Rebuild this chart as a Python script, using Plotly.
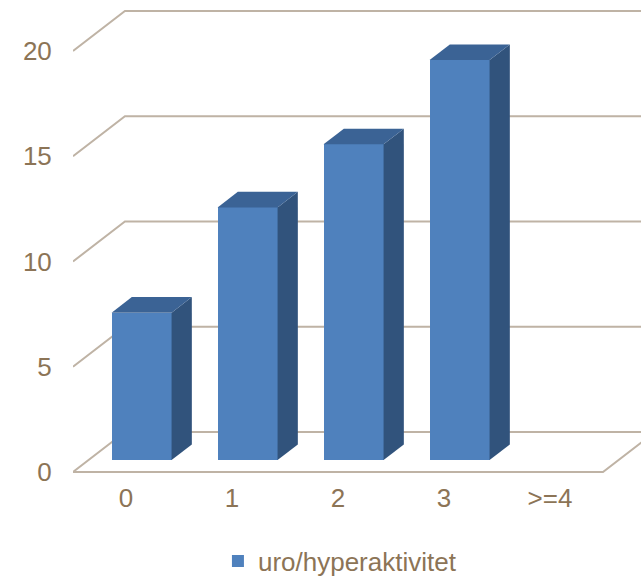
import plotly.graph_objects as go

categories = ["0", "1", "2", "3", ">=4"]
counts = [7, 12, 15, 19, 0]
series_name = "uro/hyperaktivitet"
y_ticks = [0, 5, 10, 15, 20]

# Oblique projection of the depth axis, expressed in data units
DEPTH_X = 0.49
DEPTH_Y = 1.90
FRONT, BACK = 0.30, 0.69      # depth fractions of the bar front / back faces
BAR_W = 0.566

FACE = "#4F81BD"
SIDE = "#31537C"
TOP = "#3B6395"
GRID = "#BFB3A5"
TEXT = "#8C7456"
FONT = "Liberation Sans, Arial, sans-serif"

n = len(categories)
xs = list(range(n))

fig = go.Figure()

# Side-wall and back-wall gridlines, plus the floor outline
shapes = []
for v in y_ticks:
    path = (f"M {-0.5},{v} L {-0.5 + DEPTH_X},{v + DEPTH_Y} "
            f"L {n + 1},{v + DEPTH_Y}")
    shapes.append(dict(type="path", path=path, xref="x", yref="y",
                       line=dict(color=GRID, width=2), layer="below"))
floor = (f"M {-0.5},0 L {n - 0.5},0 "
         f"L {n - 0.5 + DEPTH_X},{DEPTH_Y}")
shapes.append(dict(type="path", path=floor, xref="x", yref="y",
                   line=dict(color=GRID, width=2), layer="below"))

# Front faces of the bars
fig.add_trace(go.Bar(
    x=[i + FRONT * DEPTH_X for i in xs],
    y=counts,
    base=FRONT * DEPTH_Y,
    width=BAR_W,
    marker=dict(color=FACE, line=dict(width=0)),
    name=series_name,
    showlegend=True,
    hoverinfo="skip",
))

# Right side and top faces of each bar
for i, v in zip(xs, counts):
    if v <= 0:
        continue
    xl = i + FRONT * DEPTH_X - BAR_W / 2
    xr = xl + BAR_W
    dxf, dyf = FRONT * DEPTH_X, FRONT * DEPTH_Y
    dxb, dyb = BACK * DEPTH_X, BACK * DEPTH_Y
    ddx, ddy = dxb - dxf, dyb - dyf
    side_x = [xr, xr + ddx, xr + ddx, xr, xr]
    side_y = [dyf, dyf + ddy, v + dyf + ddy, v + dyf, dyf]
    top_x = [xl, xr, xr + ddx, xl + ddx, xl]
    top_y = [v + dyf, v + dyf, v + dyf + ddy, v + dyf + ddy, v + dyf]
    for px, py, col in ((side_x, side_y, SIDE), (top_x, top_y, TOP)):
        fig.add_trace(go.Scatter(
            x=px, y=py, mode="lines", fill="toself", fillcolor=col,
            line=dict(width=0, color=col), showlegend=False,
            hoverinfo="skip",
        ))

W, H = 641, 577
ML, MB = 73, 97
PX_X = 106.0
PX_Y = 21.05
plot_w = W - ML
plot_h = H - MB

fig.update_layout(
    width=W, height=H,
    margin=dict(l=ML, r=0, t=0, b=MB),
    paper_bgcolor="white", plot_bgcolor="white",
    font=dict(family=FONT, size=26, color=TEXT),
    shapes=shapes,
    showlegend=True,
    legend=dict(
        orientation="h", xref="container", yref="container",
        x=0.34, xanchor="left", y=1 - 561 / H, yanchor="middle",
        font=dict(family=FONT, size=26, color=TEXT),
        bgcolor="rgba(0,0,0,0)",
    ),
    bargap=0,
)
fig.update_xaxes(
    range=[-0.5, -0.5 + plot_w / PX_X],
    tickvals=xs, ticktext=categories,
    showgrid=False, zeroline=False, showline=False,
    ticks="", ticklen=0,
    tickfont=dict(family=FONT, size=26, color=TEXT),
)
fig.update_yaxes(
    range=[-(plot_h - 472) / PX_Y, 472 / PX_Y],
    tickvals=y_ticks,
    showgrid=False, zeroline=False, showline=False,
    ticks="outside", ticklen=15, tickcolor="rgba(0,0,0,0)",
    tickfont=dict(family=FONT, size=26, color=TEXT),
)

fig.write_html("out.html")
